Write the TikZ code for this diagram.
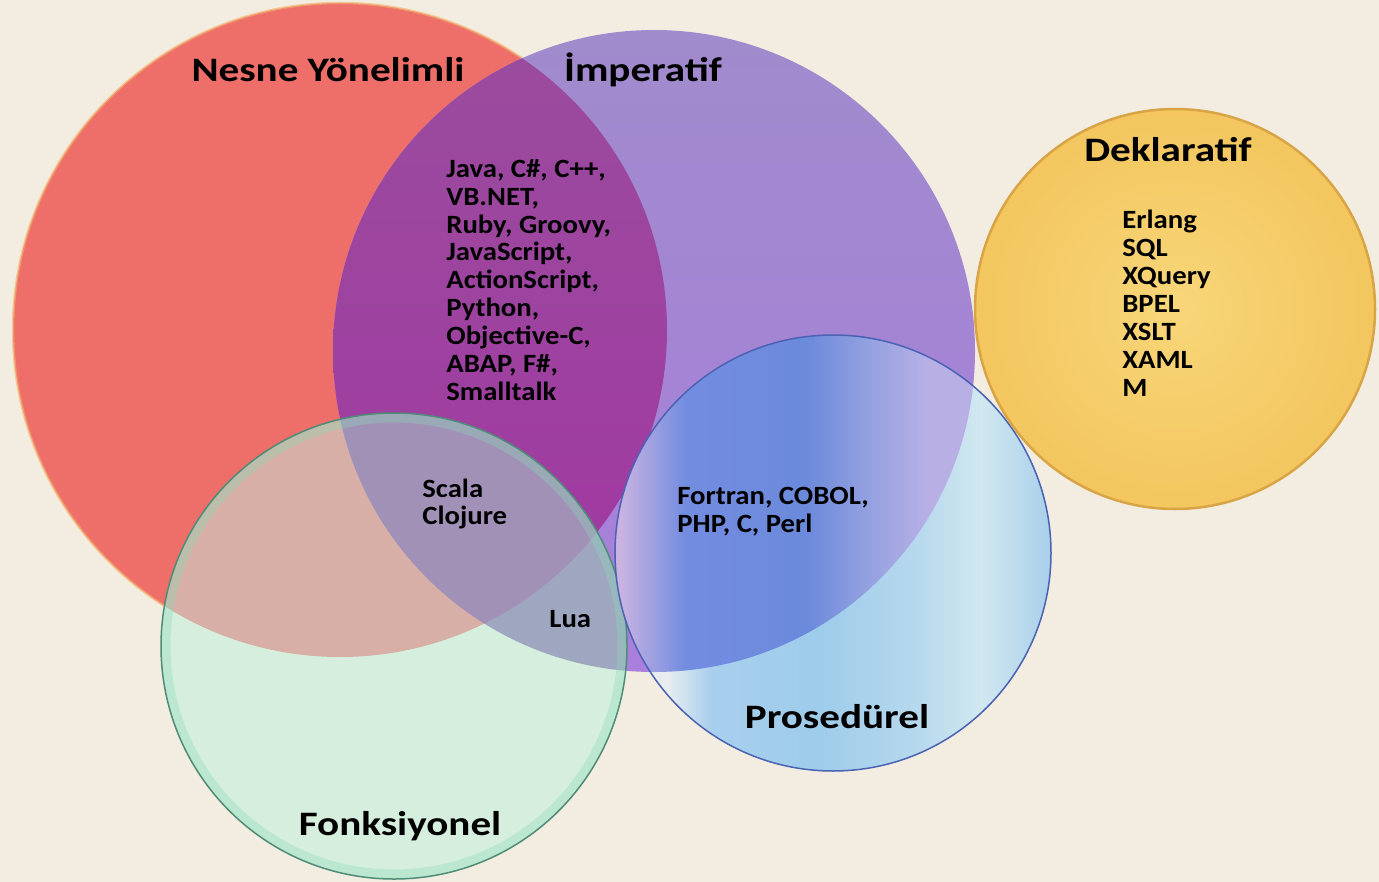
\documentclass[tikz,border=0pt]{standalone}
\usepackage{fontspec}
\setmainfont{Carlito}
\newfontfamily\titlefont{Carlito}[FakeStretch=1.2]
\newfontfamily\listfont{Carlito}[FakeStretch=1.09]
\definecolor{bgcream}{HTML}{F2EDE0}
\definecolor{nesneRed}{HTML}{EE6E6A}
\definecolor{nesneRim}{HTML}{F2B068}
\definecolor{impTop}{HTML}{A08BCC}
\definecolor{impBot}{HTML}{A97EDD}
\definecolor{ovTop}{HTML}{9A4C9E}
\definecolor{ovBot}{HTML}{A236A2}
\definecolor{fonkGreen}{HTML}{D6EEDD}
\definecolor{fonkRed}{HTML}{D8AFA6}
\definecolor{fonkImp}{HTML}{9EA6C0}
\definecolor{fonkAll}{HTML}{A291B6}
\definecolor{fonkBand}{HTML}{8ADBB8}
\definecolor{fonkRim}{HTML}{4E8C78}
\definecolor{procRim}{HTML}{4A62B4}
\definecolor{dekIn}{HTML}{F8D679}
\definecolor{dekOut}{HTML}{F3C65E}
\definecolor{dekRim}{HTML}{D8A445}
\pgfdeclarehorizontalshading{procinner}{100bp}{%
  rgb(0bp)=(0.79,0.70,0.88); rgb(25.6bp)=(0.79,0.70,0.88);
  rgb(33bp)=(0.45,0.55,0.88); rgb(47bp)=(0.42,0.54,0.86);
  rgb(54bp)=(0.58,0.63,0.88); rgb(61bp)=(0.72,0.69,0.90);
  rgb(100bp)=(0.72,0.69,0.90)}
\pgfdeclarehorizontalshading{procouter}{100bp}{%
  rgb(0bp)=(0.93,0.91,0.89); rgb(26bp)=(0.93,0.91,0.89);
  rgb(31bp)=(0.91,0.93,0.94); rgb(36bp)=(0.66,0.81,0.93);
  rgb(48.4bp)=(0.62,0.80,0.92); rgb(60bp)=(0.72,0.85,0.93);
  rgb(67bp)=(0.82,0.91,0.94); rgb(75bp)=(0.66,0.81,0.92);
  rgb(100bp)=(0.66,0.81,0.92)}
\newcommand{\nesnePath}{(340,330) circle[radius=327]}
\newcommand{\impPath}{(654,351) circle[radius=321]}
\newcommand{\fonkPath}{(394,646) circle[radius=233]}
\newcommand{\procPath}{(833,553) circle[radius=218]}
\newcommand{\dekPath}{(1175,309) circle[radius=200]}
\tikzset{
  set_title/.style={
      font=\titlefont\fontsize{19.5}{22}\selectfont\bfseries,
      inner sep=0pt,
    },
  lang_list/.style={
      font=\listfont\fontsize{15}{15.9}\selectfont\bfseries,
      align=left,
      inner sep=0pt,
      anchor=west,
    },
}

\begin{document}
\begin{tikzpicture}[x=0.02cm, y=-0.02cm]
  \fill[bgcream] (0,0) rectangle (1379,882);
  \useasboundingbox (0,0) rectangle (1379,882);
  % Nesne Yonelimli
  \fill[nesneRed] \nesnePath;
  \draw[nesneRim, line width=0.5mm, opacity=0.6] \nesnePath;
  % Imperatif and its overlap
  \shade[top color=impTop, bottom color=impBot] \impPath;
  \begin{scope}
    \clip \nesnePath;
    \shade[top color=ovTop, bottom color=ovBot] \impPath;
  \end{scope}
  % Fonksiyonel
  \fill[fonkGreen] \fonkPath;
  \begin{scope}
    \clip \fonkPath;
    \fill[fonkRed] \nesnePath;
    \fill[fonkImp] \impPath;
    \clip \nesnePath;
    \fill[fonkAll] \impPath;
  \end{scope}
  \draw[fonkBand, line width=1.8mm, opacity=0.35] (394,646) circle[radius=228];
  \draw[fonkRim, line width=0.3mm] \fonkPath;
  % Prosedurel
  \begin{scope}
    \clip \procPath;
    \shade[shading=procouter] (615,335) rectangle (1051,771);
    \clip \impPath;
    \shade[shading=procinner] (615,335) rectangle (1051,771);
  \end{scope}
  \draw[procRim, line width=0.3mm] \procPath;
  % Deklaratif
  \shade[inner color=dekIn, outer color=dekOut] \dekPath;
  \draw[dekRim, line width=0.5mm] \dekPath;

  \node[set_title] (nesne) at (328,70) {Nesne Yönelimli};
  \node[set_title] (imperatif) at (643,70) {İmperatif};
  \node[set_title] (deklaratif) at (1168,150) {Deklaratif};
  \node[set_title] (prosedurel) at (837,717) {Prosedürel};
  \node[set_title] (fonksiyonel) at (400,826) {Fonksiyonel};

  \node[lang_list] (oop_langs) at (446,280) {Java, C\#, C++,\\ VB.NET,\\ Ruby, Groovy,\\ JavaScript,\\ ActionScript,\\ Python,\\ Objective-C,\\ ABAP, F\#,\\ Smalltalk};
  \node[lang_list] (dek_langs) at (1122,303) {Erlang\\ SQL\\ XQuery\\ BPEL\\ XSLT\\ XAML\\ M};
  \node[lang_list] (fonk_langs) at (422,504) {Scala\\ Clojure};
  \node[lang_list] (lua) at (549,619) {Lua};
  \node[lang_list] (proc_langs) at (677,512) {Fortran, COBOL,\\ PHP, C, Perl};
\end{tikzpicture}
\end{document}
